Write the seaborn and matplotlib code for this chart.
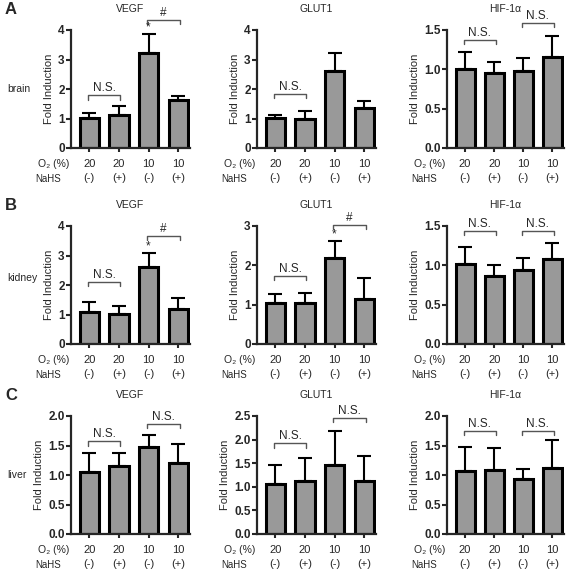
import numpy as np
import matplotlib
matplotlib.use("Agg")
import matplotlib.pyplot as plt
import seaborn as sns

# conditions (x axis)
conditions = ["20/-", "20/+", "10/-", "10/+"]
o2_labels = ["20", "20", "10", "10"]
nahs_labels = ["(-)", "(+)", "(-)", "(+)"]

tissues = ["brain", "kidney", "liver"]
genes = ["VEGF", "GLUT1", "HIF-1\u03b1"]

# mean fold induction and upper error (SEM) per panel
brain_vegf = [1.02, 1.12, 3.21, 1.63]
brain_vegf_err = [0.16, 0.31, 0.67, 0.14]
brain_glut1 = [1.01, 1.00, 2.62, 1.37]
brain_glut1_err = [0.12, 0.27, 0.60, 0.22]
brain_hif = [1.00, 0.95, 0.98, 1.16]
brain_hif_err = [0.22, 0.14, 0.17, 0.26]

kidney_vegf = [1.08, 1.03, 2.60, 1.18]
kidney_vegf_err = [0.34, 0.25, 0.48, 0.37]
kidney_glut1 = [1.03, 1.04, 2.18, 1.15]
kidney_glut1_err = [0.23, 0.25, 0.43, 0.52]
kidney_hif = [1.02, 0.86, 0.94, 1.08]
kidney_hif_err = [0.21, 0.14, 0.15, 0.21]

liver_vegf = [1.05, 1.15, 1.47, 1.20]
liver_vegf_err = [0.32, 0.23, 0.20, 0.33]
liver_glut1 = [1.06, 1.13, 1.47, 1.12]
liver_glut1_err = [0.40, 0.47, 0.72, 0.54]
liver_hif = [1.07, 1.08, 0.93, 1.12]
liver_hif_err = [0.40, 0.38, 0.18, 0.48]

# y axis ticks per panel
yticks = [
    [[0, 1, 2, 3, 4], [0, 1, 2, 3, 4], [0.0, 0.5, 1.0, 1.5]],
    [[0, 1, 2, 3, 4], [0, 1, 2, 3], [0.0, 0.5, 1.0, 1.5]],
    [[0.0, 0.5, 1.0, 1.5, 2.0], [0.0, 0.5, 1.0, 1.5, 2.0, 2.5], [0.0, 0.5, 1.0, 1.5, 2.0]],
]
decimals = [[0, 0, 1], [0, 0, 1], [1, 1, 1]]

# significance brackets: (bar i, bar j, height, label)
brackets = [
    [[(0, 1, 1.78, "N.S."), (2, 3, 4.34, "#")],
     [(0, 1, 1.84, "N.S.")],
     [(0, 1, 1.37, "N.S."), (2, 3, 1.59, "N.S.")]],
    [[(0, 1, 2.09, "N.S."), (2, 3, 3.66, "#")],
     [(0, 1, 1.73, "N.S."), (2, 3, 3.03, "#")],
     [(0, 1, 1.44, "N.S."), (2, 3, 1.44, "N.S.")]],
    [[(0, 1, 1.57, "N.S."), (2, 3, 1.86, "N.S.")],
     [(0, 1, 1.92, "N.S."), (2, 3, 2.45, "N.S.")],
     [(0, 1, 1.74, "N.S."), (2, 3, 1.74, "N.S.")]],
]
# asterisks: (bar, height)
stars = [[[(2, 3.90)], [], []],
         [[(2, 3.12)], [(2, 2.63)], []],
         [[], [], []]]

means = [[brain_vegf, brain_glut1, brain_hif],
         [kidney_vegf, kidney_glut1, kidney_hif],
         [liver_vegf, liver_glut1, liver_hif]]
errs = [[brain_vegf_err, brain_glut1_err, brain_hif_err],
        [kidney_vegf_err, kidney_glut1_err, kidney_hif_err],
        [liver_vegf_err, liver_glut1_err, liver_hif_err]]

sns.set_style("ticks")
plt.rcParams["font.family"] = ["Liberation Sans", "DejaVu Sans"]

W, H = 567, 571
fig = plt.figure(figsize=(W / 100, H / 100), dpi=100)

col_left = [71, 257, 447]
col_width = [119, 119, 117]
row_top = [30, 226, 416]
row_h = 118

for r in range(3):
    for c in range(3):
        ax = fig.add_axes([col_left[c] / W, 1 - (row_top[r] + row_h) / H,
                           col_width[c] / W, row_h / H])
        sns.barplot(x=conditions, y=means[r][c], order=conditions, color="#999999",
                    saturation=1, edgecolor="black", linewidth=2.2, width=0.65,
                    errorbar=None, ax=ax)
        ax.errorbar(np.arange(4), means[r][c], yerr=[np.zeros(4), errs[r][c]],
                    fmt="none", ecolor="black", elinewidth=1.5, capsize=5, capthick=1.5)
        ax.set_xlim(-0.62, 3.4)
        yt = yticks[r][c]
        ax.set_ylim(0, yt[-1])
        ax.set_yticks(yt)
        ax.set_yticklabels([f"{v:.{decimals[r][c]}f}" for v in yt],
                           fontsize=8.5, fontweight="bold")
        ax.set_xticks(range(4))
        ax.set_xticklabels([f"{a}\n{b}" for a, b in zip(o2_labels, nahs_labels)],
                           fontsize=8, linespacing=1.45)
        ax.tick_params(axis="x", length=3, width=1.5, pad=5)
        ax.tick_params(axis="y", length=3.5, width=1.5, pad=1)
        sns.despine(ax=ax)
        for s in ["left", "bottom"]:
            ax.spines[s].set_linewidth(1.6)
        ax.set_ylabel("Fold Induction", fontsize=8, labelpad=3)
        ax.set_xlabel("")
        ax.set_title(genes[c], fontsize=7.5, pad=13)

        # row labels for the two x-axis lines
        ax.text(-2 / col_width[c], -16 / row_h, "O\u2082 (%)", transform=ax.transAxes,
                ha="right", va="center", fontsize=7.5)
        ax.text(-10 / col_width[c], -31 / row_h, "NaHS", transform=ax.transAxes,
                ha="right", va="center", fontsize=7)

        top = yt[-1]
        for i, j, y, lab in brackets[r][c]:
            d = 0.035 * top
            ax.plot([i - 0.05, i - 0.05, j + 0.05, j + 0.05], [y - d, y, y, y - d],
                    color="#555555", lw=1, clip_on=False)
            ax.text((i + j) / 2, y + 0.01 * top, lab, ha="center", va="bottom",
                    fontsize=8.5)
        for b, y in stars[r][c]:
            ax.text(b, y, "*", ha="center", va="bottom", fontsize=8.5)

# panel letters and tissue names
for letter, y in zip(["A", "B", "C"], [10, 205, 395]):
    fig.text(5 / W, 1 - y / H, letter, fontsize=12, fontweight="bold",
             ha="left", va="center")
for name, y in zip(tissues, [89, 278, 475]):
    fig.text(7 / W, 1 - y / H, name, fontsize=7.5, ha="left", va="center")

fig.savefig("out.png", dpi=100)
